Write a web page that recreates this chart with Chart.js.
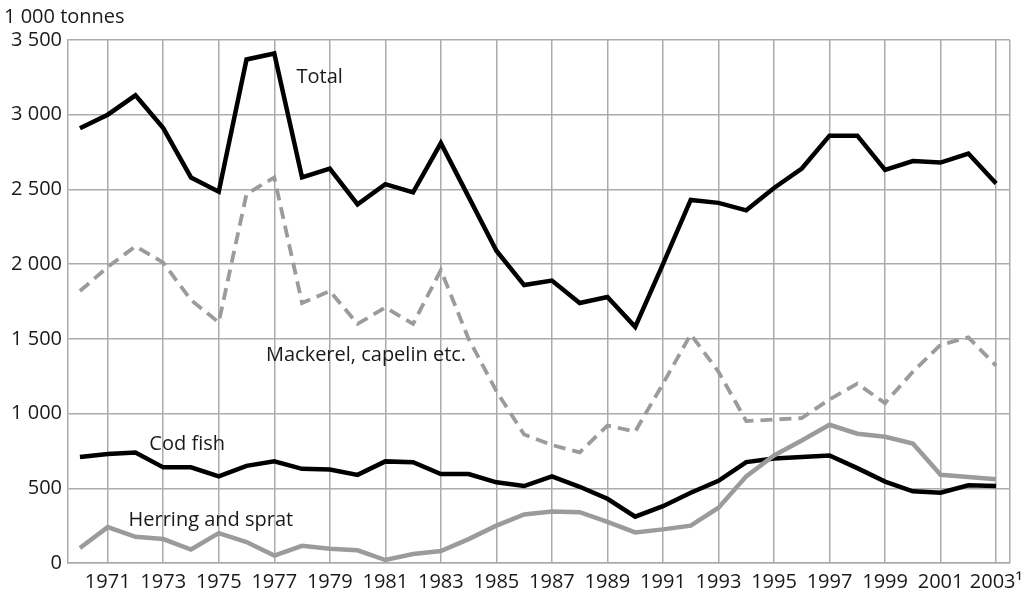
<!DOCTYPE html>
<html>
<head>
<meta charset="utf-8">
<script src="https://cdn.jsdelivr.net/npm/chart.js@4/dist/chart.umd.min.js"></script>
<style>
  html, body { margin: 0; padding: 0; background: #fff; }
  #wrap { width: 1032px; height: 598px; }
</style>
</head>
<body>
<div id="wrap"><canvas id="catch" width="1032" height="598"></canvas></div>
<script>
// Years of the catch statistics
const years = [1970, 1971, 1972, 1973, 1974, 1975, 1976, 1977, 1978, 1979,
               1980, 1981, 1982, 1983, 1984, 1985, 1986, 1987, 1988, 1989,
               1990, 1991, 1992, 1993, 1994, 1995, 1996, 1997, 1998, 1999,
               2000, 2001, 2002, 2003];

// Catch in 1 000 tonnes
const total = [2910, 3000, 3130, 2910, 2580, 2485, 3370, 3410, 2580, 2640,
               2400, 2535, 2480, 2810, 2450, 2090, 1860, 1890, 1740, 1780,
               1580, 2000, 2430, 2410, 2360, 2510, 2640, 2860, 2860, 2630,
               2690, 2680, 2740, 2540];
const mackerel = [1820, 1980, 2120, 2010, 1760, 1610, 2470, 2580, 1740, 1820,
                  1600, 1710, 1600, 1960, 1500, 1150, 860, 790, 740, 920,
                  880, 1200, 1530, 1280, 950, 960, 970, 1095, 1200, 1070,
                  1280, 1460, 1510, 1320];
const codFish = [710, 730, 740, 640, 640, 580, 650, 680, 630, 625,
                 590, 680, 675, 595, 595, 540, 515, 580, 510, 430,
                 310, 380, 470, 550, 675, 700, 710, 720, 635, 545,
                 480, 470, 520, 515];
const herring = [100, 240, 175, 160, 90, 200, 140, 50, 115, 95,
                 85, 20, 60, 80, 160, 250, 325, 345, 340, 275,
                 205, 225, 250, 370, 580, 720, 820, 925, 865, 845,
                 800, 590, 575, 560];

// Axis ticks
const xTickYears = [1971, 1973, 1975, 1977, 1979, 1981, 1983, 1985, 1987,
                    1989, 1991, 1993, 1995, 1997, 1999, 2001, 2003];
const xTickLabels = ['1971', '1973', '1975', '1977', '1979', '1981', '1983',
                     '1985', '1987', '1989', '1991', '1993', '1995', '1997',
                     '1999', '2001', '2003¹'];
const yTicks = [0, 500, 1000, 1500, 2000, 2500, 3000, 3500];

const FONT = '"Open Sans", "DejaVu Sans", sans-serif';
const FONT_SIZE = 20;
const GRID = '#ababab';
const X_MIN = 1969.57;
const X_MAX = 2003.5;

function pts(values) {
  return years.map((y, i) => ({ x: y, y: values[i] }));
}

function fmt(v) {
  if (v < 1000) return String(v);
  return Math.floor(v / 1000) + ' ' + String(v % 1000).padStart(3, '0');
}

// Series names written next to the lines, anchored in data units
const seriesNotes = [
  { text: 'Total', x: 1977.8, y: 3215 },
  { text: 'Mackerel, capelin etc.', x: 1976.7, y: 1355 },
  { text: 'Cod fish', x: 1972.5, y: 755 },
  { text: 'Herring and sprat', x: 1971.75, y: 245 }
];

const notesPlugin = {
  id: 'notes',
  afterDatasetsDraw(chart) {
    const { ctx, scales } = chart;
    ctx.save();
    ctx.font = FONT_SIZE + 'px ' + FONT;
    ctx.fillStyle = '#1a1a1a';
    ctx.textAlign = 'left';
    ctx.textBaseline = 'alphabetic';
    seriesNotes.forEach(n => {
      ctx.fillText(n.text, scales.x.getPixelForValue(n.x), scales.y.getPixelForValue(n.y));
    });
    // unit above the value axis
    ctx.fillText('1 000 tonnes', 4, 23);
    ctx.restore();
  }
};

const line = (label, values, color, width, dash) => ({
  label,
  data: pts(values),
  borderColor: color,
  borderWidth: width,
  borderDash: dash || [],
  borderJoinStyle: 'miter',
  pointRadius: 0,
  tension: 0,
  fill: false
});

new Chart(document.getElementById('catch'), {
  type: 'line',
  data: {
    datasets: [
      line('Herring and sprat', herring, '#9b9b9b', 4.5),
      line('Mackerel, capelin etc.', mackerel, '#9b9b9b', 3.8, [12, 7]),
      line('Cod fish', codFish, '#000', 4.5),
      line('Total', total, '#000', 4.5)
    ]
  },
  options: {
    responsive: false,
    animation: false,
    layout: { padding: { top: 40, right: 22, left: 0, bottom: 0 } },
    plugins: {
      legend: { display: false },
      tooltip: { enabled: false }
    },
    scales: {
      x: {
        type: 'linear',
        min: X_MIN,
        max: X_MAX,
        afterBuildTicks(scale) {
          scale.ticks = xTickYears.map(v => ({ value: v })).concat([{ value: X_MAX }]);
        },
        afterFit(scale) { scale.height = 35; },
        ticks: {
          autoSkip: false,
          maxRotation: 0,
          padding: 7,
          color: '#1a1a1a',
          font: { family: FONT, size: FONT_SIZE },
          callback(v) {
            const i = xTickYears.indexOf(v);
            return i >= 0 ? xTickLabels[i] : '';
          }
        },
        grid: { color: GRID, lineWidth: 1.5, drawTicks: false },
        border: { color: GRID, width: 1.5 }
      },
      y: {
        min: 0,
        max: 3500,
        afterBuildTicks(scale) {
          scale.ticks = yTicks.map(v => ({ value: v }));
        },
        afterFit(scale) { scale.width = 68; },
        ticks: {
          padding: 6,
          color: '#1a1a1a',
          font: { family: FONT, size: FONT_SIZE },
          callback: v => fmt(v)
        },
        grid: { color: GRID, lineWidth: 1.5, drawTicks: false },
        border: { color: GRID, width: 1.5 }
      }
    }
  },
  plugins: [notesPlugin]
});
</script>
</body>
</html>
